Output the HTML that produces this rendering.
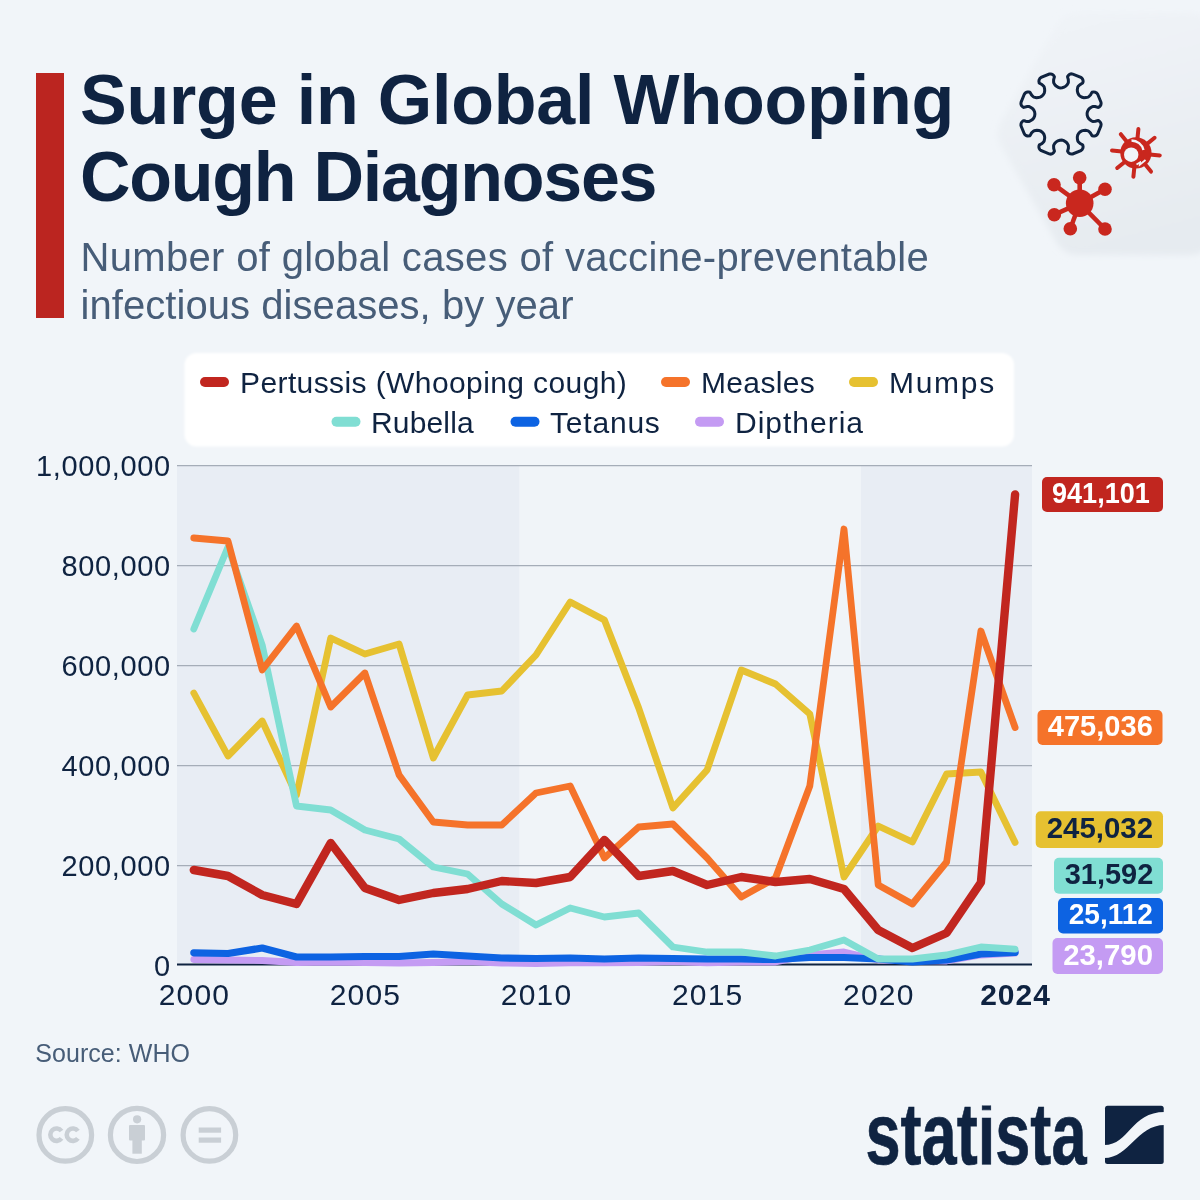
<!DOCTYPE html>
<html><head><meta charset="utf-8"><style>html,body{margin:0;padding:0;background:#f1f5f9;}svg{display:block;will-change:transform;}</style></head>
<body><svg width="1200" height="1200" viewBox="0 0 1200 1200">
<rect width="1200" height="1200" fill="#f1f5f9"/>
<defs><linearGradient id="hg" x1="0" y1="0" x2="0.3" y2="1"><stop offset="0" stop-color="#f0f4f8"/><stop offset="0.35" stop-color="#edf1f5"/><stop offset="1" stop-color="#e6ebf0"/></linearGradient><filter id="bl" x="-10%" y="-10%" width="120%" height="120%"><feGaussianBlur stdDeviation="3"/></filter></defs>
<path d="M1267.1,146.0 L1269.6,139.7 L1270.3,135.1 L1269.6,128.3 L1267.1,122.0 L1209.7,22.8 L1206.7,19.4 L1203.1,16.6 L1196.9,13.7 L1192.4,12.9 L1077.9,12.8 L1071.1,13.7 L1064.9,16.6 L1059.7,21.0 L1057.1,24.8 L1000.9,122.0 L999.0,126.2 L997.7,132.9 L998.4,139.7 L1000.9,146.0 L1057.1,243.2 L1059.7,247.0 L1064.9,251.4 L1071.1,254.3 L1075.6,255.1 L1190.1,255.2 L1196.9,254.3 L1201.1,252.6 L1206.7,248.6 L1210.9,243.2 L1267.1,146.0Z" fill="url(#hg)" filter="url(#bl)"/>
<rect x="36" y="73" width="28" height="245" fill="#bb2520"/>
<text x="80" y="124" font-family="Liberation Sans, sans-serif" font-weight="700" font-size="70" fill="#0f2341" letter-spacing="-0.2">Surge in Global Whooping</text>
<text x="80" y="201" font-family="Liberation Sans, sans-serif" font-weight="700" font-size="70" fill="#0f2341" letter-spacing="-1.25">Cough Diagnoses</text>
<text x="80.5" y="271" font-family="Liberation Sans, sans-serif" font-size="40" fill="#475d78" letter-spacing="0.33">Number of global cases of vaccine-preventable</text>
<text x="80.5" y="318.5" font-family="Liberation Sans, sans-serif" font-size="40" fill="#475d78" letter-spacing="0.06">infectious diseases, by year</text>
<path d="M1024.4,120.7 L1023.4,120.7 L1021.9,121.9 L1021.1,123.4 L1020.9,125.1 L1021.2,126.4 L1024.1,133.4 L1024.8,134.5 L1025.7,135.3 L1026.6,135.8 L1027.7,136.1 L1029.7,135.9 L1030.2,135.4 L1031.5,133.0 L1033.4,131.2 L1034.3,130.8 L1036.9,130.3 L1039.0,130.5 L1040.9,131.2 L1042.6,132.5 L1043.8,134.1 L1044.4,135.6 L1044.7,137.4 L1044.6,138.8 L1044.1,141.2 L1043.7,141.8 L1042.0,143.5 L1039.4,144.9 L1039.0,145.9 L1038.9,147.2 L1039.2,148.5 L1039.9,149.6 L1040.9,150.5 L1049.1,153.9 L1050.7,154.1 L1052.3,153.6 L1053.5,152.7 L1054.4,151.4 L1054.4,150.9 L1053.7,148.5 L1053.6,145.9 L1053.8,145.0 L1054.9,143.3 L1056.3,141.8 L1057.9,140.8 L1059.8,140.2 L1061.8,140.1 L1063.8,140.6 L1065.5,141.6 L1066.8,142.8 L1068.2,145.0 L1068.4,145.9 L1068.4,148.2 L1067.6,151.2 L1068.2,152.4 L1069.2,153.3 L1070.3,153.9 L1071.6,154.1 L1072.7,154.0 L1080.8,150.7 L1082.1,149.6 L1082.9,148.1 L1083.1,146.7 L1082.8,145.2 L1082.4,144.8 L1080.2,143.6 L1078.3,141.8 L1077.8,141.0 L1077.4,139.1 L1077.3,137.0 L1077.7,135.1 L1078.7,133.3 L1080.0,131.9 L1081.8,130.9 L1083.7,130.4 L1085.5,130.3 L1088.0,130.8 L1088.8,131.3 L1090.4,133.0 L1091.9,135.6 L1092.3,135.9 L1093.3,136.1 L1094.6,136.0 L1095.8,135.6 L1096.9,134.8 L1097.7,133.8 L1100.9,125.9 L1101.1,124.2 L1100.6,122.6 L1099.7,121.5 L1098.5,120.6 L1097.9,120.6 L1095.5,121.3 L1092.9,121.4 L1092.0,121.2 L1090.3,120.1 L1088.8,118.7 L1087.8,117.1 L1087.2,115.2 L1087.1,113.2 L1087.6,111.2 L1088.6,109.5 L1089.8,108.2 L1092.0,106.8 L1092.9,106.6 L1095.2,106.6 L1098.1,107.4 L1098.6,107.3 L1099.4,106.8 L1100.3,105.8 L1100.9,104.7 L1101.1,103.4 L1101.0,102.3 L1097.7,94.2 L1096.6,92.9 L1095.1,92.1 L1093.7,91.9 L1092.2,92.2 L1091.8,92.6 L1090.6,94.8 L1088.8,96.7 L1088.0,97.2 L1086.1,97.6 L1084.0,97.7 L1082.1,97.3 L1080.3,96.3 L1078.9,95.0 L1077.9,93.2 L1077.4,91.3 L1077.3,89.5 L1077.8,87.0 L1078.3,86.2 L1080.0,84.6 L1082.6,83.0 L1083.1,81.7 L1083.0,80.4 L1082.6,79.2 L1081.8,78.1 L1080.8,77.3 L1072.9,74.1 L1071.2,73.9 L1069.6,74.4 L1068.5,75.3 L1067.6,76.5 L1067.6,77.1 L1068.3,79.5 L1068.4,82.1 L1068.2,83.0 L1067.1,84.7 L1065.7,86.2 L1064.1,87.2 L1062.2,87.8 L1060.2,87.9 L1058.2,87.4 L1056.5,86.4 L1055.2,85.2 L1053.8,83.0 L1053.6,82.1 L1053.6,79.8 L1054.4,76.8 L1053.8,75.6 L1052.8,74.7 L1051.7,74.1 L1050.7,73.9 L1049.3,74.0 L1041.2,77.3 L1039.9,78.4 L1039.1,79.9 L1038.9,81.3 L1039.2,82.9 L1039.6,83.3 L1041.8,84.4 L1043.7,86.2 L1044.2,87.0 L1044.6,88.9 L1044.7,91.0 L1044.3,92.9 L1043.3,94.7 L1042.0,96.1 L1040.2,97.1 L1038.3,97.6 L1036.5,97.7 L1034.0,97.2 L1033.2,96.7 L1031.6,95.0 L1030.1,92.4 L1029.7,92.1 L1028.7,91.9 L1027.4,92.0 L1026.2,92.4 L1025.1,93.2 L1024.3,94.2 L1021.1,102.1 L1020.9,103.8 L1021.4,105.5 L1022.5,106.7 L1023.6,107.4 L1027.1,106.6 L1029.1,106.6 L1030.2,107.0 L1032.4,108.5 L1033.7,109.9 L1034.6,111.9 L1034.9,113.9 L1034.6,116.1 L1033.7,118.1 L1032.4,119.5 L1030.2,121.0 L1029.1,121.4 L1027.1,121.4 L1025.6,121.2 L1024.4,120.7Z" fill="none" stroke="#10233f" stroke-width="3"/>
<path d="M1137.4,139.0 L1138.4,129.0 M1146.8,144.1 L1154.6,137.8 M1149.8,154.4 L1159.8,155.4 M1144.7,163.8 L1151.0,171.6 M1134.4,166.8 L1133.4,176.8 M1125.0,161.7 L1117.2,168.0 M1122.0,151.4 L1112.0,150.4 M1127.1,142.0 L1120.8,134.2" stroke="#c9271e" stroke-width="4" stroke-linecap="round"/>
<circle cx="1135.9" cy="152.9" r="15.6" fill="#c9271e"/>
<circle cx="1131.2" cy="154.7" r="7.2" fill="#f1f5f9"/>
<path d="M1131.5,140.5 A12.5,12.5 0 0 1 1143.5,150" fill="none" stroke="#f1f5f9" stroke-width="2.3"/>
<path d="M1136.5,164.5 L1140,162.5 L1139.8,164.6 L1145.5,160" fill="none" stroke="#f1f5f9" stroke-width="1.8"/>
<g fill="#c9271e" stroke="#c9271e"><line x1="1079.7" y1="203.3" x2="1079.7" y2="177.7" stroke-width="4.6"/><circle cx="1079.7" cy="177.7" r="6.8" stroke="none"/><line x1="1079.7" y1="203.3" x2="1054" y2="184.7" stroke-width="4.6"/><circle cx="1054" cy="184.7" r="6.8" stroke="none"/><line x1="1079.7" y1="203.3" x2="1105" y2="189.3" stroke-width="4.6"/><circle cx="1105" cy="189.3" r="6.8" stroke="none"/><line x1="1079.7" y1="203.3" x2="1054.3" y2="214.7" stroke-width="4.6"/><circle cx="1054.3" cy="214.7" r="6.8" stroke="none"/><line x1="1079.7" y1="203.3" x2="1070.3" y2="228.7" stroke-width="4.6"/><circle cx="1070.3" cy="228.7" r="6.8" stroke="none"/><line x1="1079.7" y1="203.3" x2="1105" y2="229" stroke-width="4.6"/><circle cx="1105" cy="229" r="6.8" stroke="none"/><circle cx="1079.7" cy="203.3" r="13.8" stroke="none"/></g>
<filter id="lb" x="-5%" y="-20%" width="110%" height="140%"><feGaussianBlur stdDeviation="1.2"/></filter>
<rect x="184.5" y="353" width="829.5" height="93.5" rx="12" fill="#ffffff" filter="url(#lb)"/>
<line x1="205" y1="382" x2="224" y2="382" stroke="#c1261f" stroke-width="10" stroke-linecap="round"/>
<text x="240" y="393" font-family="Liberation Sans, sans-serif" font-size="30" fill="#0f2341" letter-spacing="0.4">Pertussis (Whooping cough)</text>
<line x1="666" y1="382" x2="685" y2="382" stroke="#f5732a" stroke-width="10" stroke-linecap="round"/>
<text x="701" y="393" font-family="Liberation Sans, sans-serif" font-size="30" fill="#0f2341" letter-spacing="0.35">Measles</text>
<line x1="854" y1="382" x2="873" y2="382" stroke="#e6c131" stroke-width="10" stroke-linecap="round"/>
<text x="889" y="393" font-family="Liberation Sans, sans-serif" font-size="30" fill="#0f2341" letter-spacing="1.7">Mumps</text>
<line x1="336.5" y1="421.7" x2="355.5" y2="421.7" stroke="#80ded3" stroke-width="10" stroke-linecap="round"/>
<text x="371" y="433" font-family="Liberation Sans, sans-serif" font-size="30" fill="#0f2341" letter-spacing="0.15">Rubella</text>
<line x1="515.5" y1="421.7" x2="534.5" y2="421.7" stroke="#0d63e2" stroke-width="10" stroke-linecap="round"/>
<text x="550" y="433" font-family="Liberation Sans, sans-serif" font-size="30" fill="#0f2341" letter-spacing="0.8">Tetanus</text>
<line x1="700" y1="421.7" x2="719" y2="421.7" stroke="#c49bf3" stroke-width="10" stroke-linecap="round"/>
<text x="735" y="433" font-family="Liberation Sans, sans-serif" font-size="30" fill="#0f2341" letter-spacing="1.0">Diptheria</text>
<rect x="177" y="465" width="342.5" height="500" fill="#e8edf4"/>
<rect x="519.5" y="465" width="341.5" height="500" fill="#f0f4f8"/>
<rect x="861" y="465" width="171" height="500" fill="#e8edf4"/>
<line x1="177" y1="865.6" x2="1032" y2="865.6" stroke="#a5adb8" stroke-width="1.4"/>
<line x1="177" y1="765.6" x2="1032" y2="765.6" stroke="#a5adb8" stroke-width="1.4"/>
<line x1="177" y1="665.6" x2="1032" y2="665.6" stroke="#a5adb8" stroke-width="1.4"/>
<line x1="177" y1="565.6" x2="1032" y2="565.6" stroke="#a5adb8" stroke-width="1.4"/>
<line x1="177" y1="465.6" x2="1032" y2="465.6" stroke="#a5adb8" stroke-width="1.4"/>
<line x1="177" y1="964.6" x2="1032" y2="964.6" stroke="#0f2341" stroke-width="2"/>
<text x="170.8" y="976.2" text-anchor="end" font-family="Liberation Sans, sans-serif" font-size="29" fill="#0f2341" letter-spacing="0.65">0</text>
<text x="170.8" y="876.2" text-anchor="end" font-family="Liberation Sans, sans-serif" font-size="29" fill="#0f2341" letter-spacing="0.65">200,000</text>
<text x="170.8" y="776.2" text-anchor="end" font-family="Liberation Sans, sans-serif" font-size="29" fill="#0f2341" letter-spacing="0.65">400,000</text>
<text x="170.8" y="676.2" text-anchor="end" font-family="Liberation Sans, sans-serif" font-size="29" fill="#0f2341" letter-spacing="0.65">600,000</text>
<text x="170.8" y="576.2" text-anchor="end" font-family="Liberation Sans, sans-serif" font-size="29" fill="#0f2341" letter-spacing="0.65">800,000</text>
<text x="170.8" y="476.2" text-anchor="end" font-family="Liberation Sans, sans-serif" font-size="29" fill="#0f2341" letter-spacing="0.65">1,000,000</text>
<text x="193.8" y="1004.5" text-anchor="middle" font-family="Liberation Sans, sans-serif" font-size="30" fill="#0f2341" letter-spacing="1.2" dx="0.6">2000</text>
<text x="364.9" y="1004.5" text-anchor="middle" font-family="Liberation Sans, sans-serif" font-size="30" fill="#0f2341" letter-spacing="1.2" dx="0.6">2005</text>
<text x="536.0" y="1004.5" text-anchor="middle" font-family="Liberation Sans, sans-serif" font-size="30" fill="#0f2341" letter-spacing="1.2" dx="0.6">2010</text>
<text x="707.1" y="1004.5" text-anchor="middle" font-family="Liberation Sans, sans-serif" font-size="30" fill="#0f2341" letter-spacing="1.2" dx="0.6">2015</text>
<text x="878.2" y="1004.5" text-anchor="middle" font-family="Liberation Sans, sans-serif" font-size="30" fill="#0f2341" letter-spacing="1.2" dx="0.6">2020</text>
<text x="1015" y="1004.5" text-anchor="middle" font-family="Liberation Sans, sans-serif" font-weight="700" font-size="30" fill="#0f2341" letter-spacing="1" dx="0.5">2024</text>
<polyline points="193.8,959.5 228.0,960.0 262.2,960.5 296.5,962.5 330.7,962.0 364.9,962.5 399.1,963.0 433.3,962.5 467.6,961.5 501.8,963.0 536.0,963.5 570.2,962.8 604.4,962.8 638.7,962.5 672.9,961.5 707.1,962.8 741.3,962.0 775.5,962.0 809.8,955.0 844.0,952.0 878.2,960.0 912.4,960.7 946.6,961.0 980.9,955.0 1015.1,953.1" fill="none" stroke="#c49bf3" stroke-width="6.8" stroke-linejoin="round" stroke-linecap="round"/>
<polyline points="193.8,952.8 228.0,953.5 262.2,948.0 296.5,957.0 330.7,957.0 364.9,956.5 399.1,956.5 433.3,954.0 467.6,956.0 501.8,958.0 536.0,958.5 570.2,958.0 604.4,959.0 638.7,958.0 672.9,958.5 707.1,959.0 741.3,959.0 775.5,959.5 809.8,957.5 844.0,957.5 878.2,959.0 912.4,962.0 946.6,960.0 980.9,954.0 1015.1,952.4" fill="none" stroke="#0d63e2" stroke-width="7.2" stroke-linejoin="round" stroke-linecap="round"/>
<polyline points="193.8,693.0 228.0,756.0 262.2,721.0 296.5,795.0 330.7,638.0 364.9,654.0 399.1,644.0 433.3,758.0 467.6,695.0 501.8,691.0 536.0,655.0 570.2,602.0 604.4,620.0 638.7,708.0 672.9,808.0 707.1,770.0 741.3,670.0 775.5,684.0 809.8,714.0 844.0,877.0 878.2,826.0 912.4,842.0 946.6,774.0 980.9,772.0 1015.1,842.5" fill="none" stroke="#e6c131" stroke-width="6.8" stroke-linejoin="round" stroke-linecap="round"/>
<polyline points="193.8,629.0 228.0,547.0 262.2,645.0 296.5,806.0 330.7,810.0 364.9,830.0 399.1,839.0 433.3,867.0 467.6,874.0 501.8,904.0 536.0,925.0 570.2,908.0 604.4,917.0 638.7,913.0 672.9,947.0 707.1,952.0 741.3,952.0 775.5,956.0 809.8,950.0 844.0,940.0 878.2,959.0 912.4,959.0 946.6,955.0 980.9,947.0 1015.1,949.2" fill="none" stroke="#80ded3" stroke-width="6.8" stroke-linejoin="round" stroke-linecap="round"/>
<polyline points="193.8,538.0 228.0,541.0 262.2,670.0 296.5,626.0 330.7,707.0 364.9,673.0 399.1,775.0 433.3,822.0 467.6,825.0 501.8,825.0 536.0,793.0 570.2,786.0 604.4,858.0 638.7,827.0 672.9,824.0 707.1,858.0 741.3,897.0 775.5,878.0 809.8,786.0 844.0,529.0 878.2,885.0 912.4,904.0 946.6,862.0 980.9,631.0 1015.1,727.5" fill="none" stroke="#f5732a" stroke-width="6.8" stroke-linejoin="round" stroke-linecap="round"/>
<polyline points="193.8,870.0 228.0,876.0 262.2,895.0 296.5,904.0 330.7,843.0 364.9,888.0 399.1,900.0 433.3,893.0 467.6,889.0 501.8,881.0 536.0,883.0 570.2,877.0 604.4,840.0 638.7,876.0 672.9,871.0 707.1,885.0 741.3,877.0 775.5,882.0 809.8,879.0 844.0,889.0 878.2,930.0 912.4,948.0 946.6,933.0 980.9,882.5 1015.1,494.4" fill="none" stroke="#c1261f" stroke-width="8.4" stroke-linejoin="round" stroke-linecap="round"/>
<rect x="1042" y="477" width="121.0" height="35.0" rx="5" fill="#c1261f"/>
<text x="1052.0" y="503.0" font-family="Liberation Sans, sans-serif" font-weight="700" font-size="29" fill="#fff" textLength="97.8" lengthAdjust="spacingAndGlyphs">941,101</text>
<rect x="1037.5" y="710" width="125.0" height="35.0" rx="5" fill="#f5732a"/>
<text x="1047.8" y="736.0" font-family="Liberation Sans, sans-serif" font-weight="700" font-size="29" fill="#fff" textLength="105.0" lengthAdjust="spacingAndGlyphs">475,036</text>
<rect x="1035.7" y="811.3" width="127.3" height="36.7" rx="5" fill="#e6c131"/>
<text x="1046.7" y="838.1" font-family="Liberation Sans, sans-serif" font-weight="700" font-size="29" fill="#0f2341" textLength="106.3" lengthAdjust="spacingAndGlyphs">245,032</text>
<rect x="1054" y="857.8" width="109.0" height="36.0" rx="5" fill="#80ded3"/>
<text x="1064.7" y="884.3" font-family="Liberation Sans, sans-serif" font-weight="700" font-size="29" fill="#0f2341" textLength="88.6" lengthAdjust="spacingAndGlyphs">31,592</text>
<rect x="1058" y="898" width="105.0" height="35.5" rx="5" fill="#0d63e2"/>
<text x="1068.7" y="924.2" font-family="Liberation Sans, sans-serif" font-weight="700" font-size="29" fill="#fff" textLength="84.3" lengthAdjust="spacingAndGlyphs">25,112</text>
<rect x="1052.5" y="938" width="110.5" height="36.0" rx="5" fill="#c49bf3"/>
<text x="1063.2" y="964.5" font-family="Liberation Sans, sans-serif" font-weight="700" font-size="29" fill="#fff" textLength="89.8" lengthAdjust="spacingAndGlyphs">23,790</text>
<text x="35.3" y="1062" font-family="Liberation Sans, sans-serif" font-size="25" fill="#475d78" letter-spacing="0.05">Source: WHO</text>
<g fill="none" stroke="#c9cfd5" stroke-width="5.2"><circle cx="65.3" cy="1134.9" r="26.3"/><circle cx="137" cy="1134.9" r="26.6"/><circle cx="209.4" cy="1134.9" r="26.3"/></g>
<path d="M61.5,1131.0 A6.2,6.2 0 1 0 61.5,1138.4 M77.9,1131.0 A6.2,6.2 0 1 0 77.9,1138.4" fill="none" stroke="#c9cfd5" stroke-width="4.6"/>
<g fill="#c9cfd5"><circle cx="137.1" cy="1119.3" r="4.1"/><rect x="129" y="1125" width="16" height="15.5" rx="1"/><rect x="132.4" y="1139" width="9.4" height="14.7"/><rect x="198.7" y="1127.5" width="22.4" height="5.2"/><rect x="198.7" y="1137.5" width="22.4" height="5.2"/></g>
<clipPath id="lc"><rect x="850" y="1105.6" width="250" height="70"/></clipPath>
<g clip-path="url(#lc)"><text x="865.5" y="1164" font-family="Liberation Sans, sans-serif" font-weight="700" font-size="72" fill="#0f2341" stroke="#0f2341" stroke-width="0.6" textLength="221" lengthAdjust="spacingAndGlyphs" transform="translate(0,-232.8) scale(1,1.2)">statista</text></g>
<rect x="1105" y="1105.7" width="58.7" height="58.3" rx="2.5" fill="#0f2341"/>
<path d="M1104,1145 C1130,1145 1130,1112 1165,1112 L1165,1125 C1136,1125 1130,1158 1104,1158 Z" fill="#f1f5f9"/>
</svg></body></html>
